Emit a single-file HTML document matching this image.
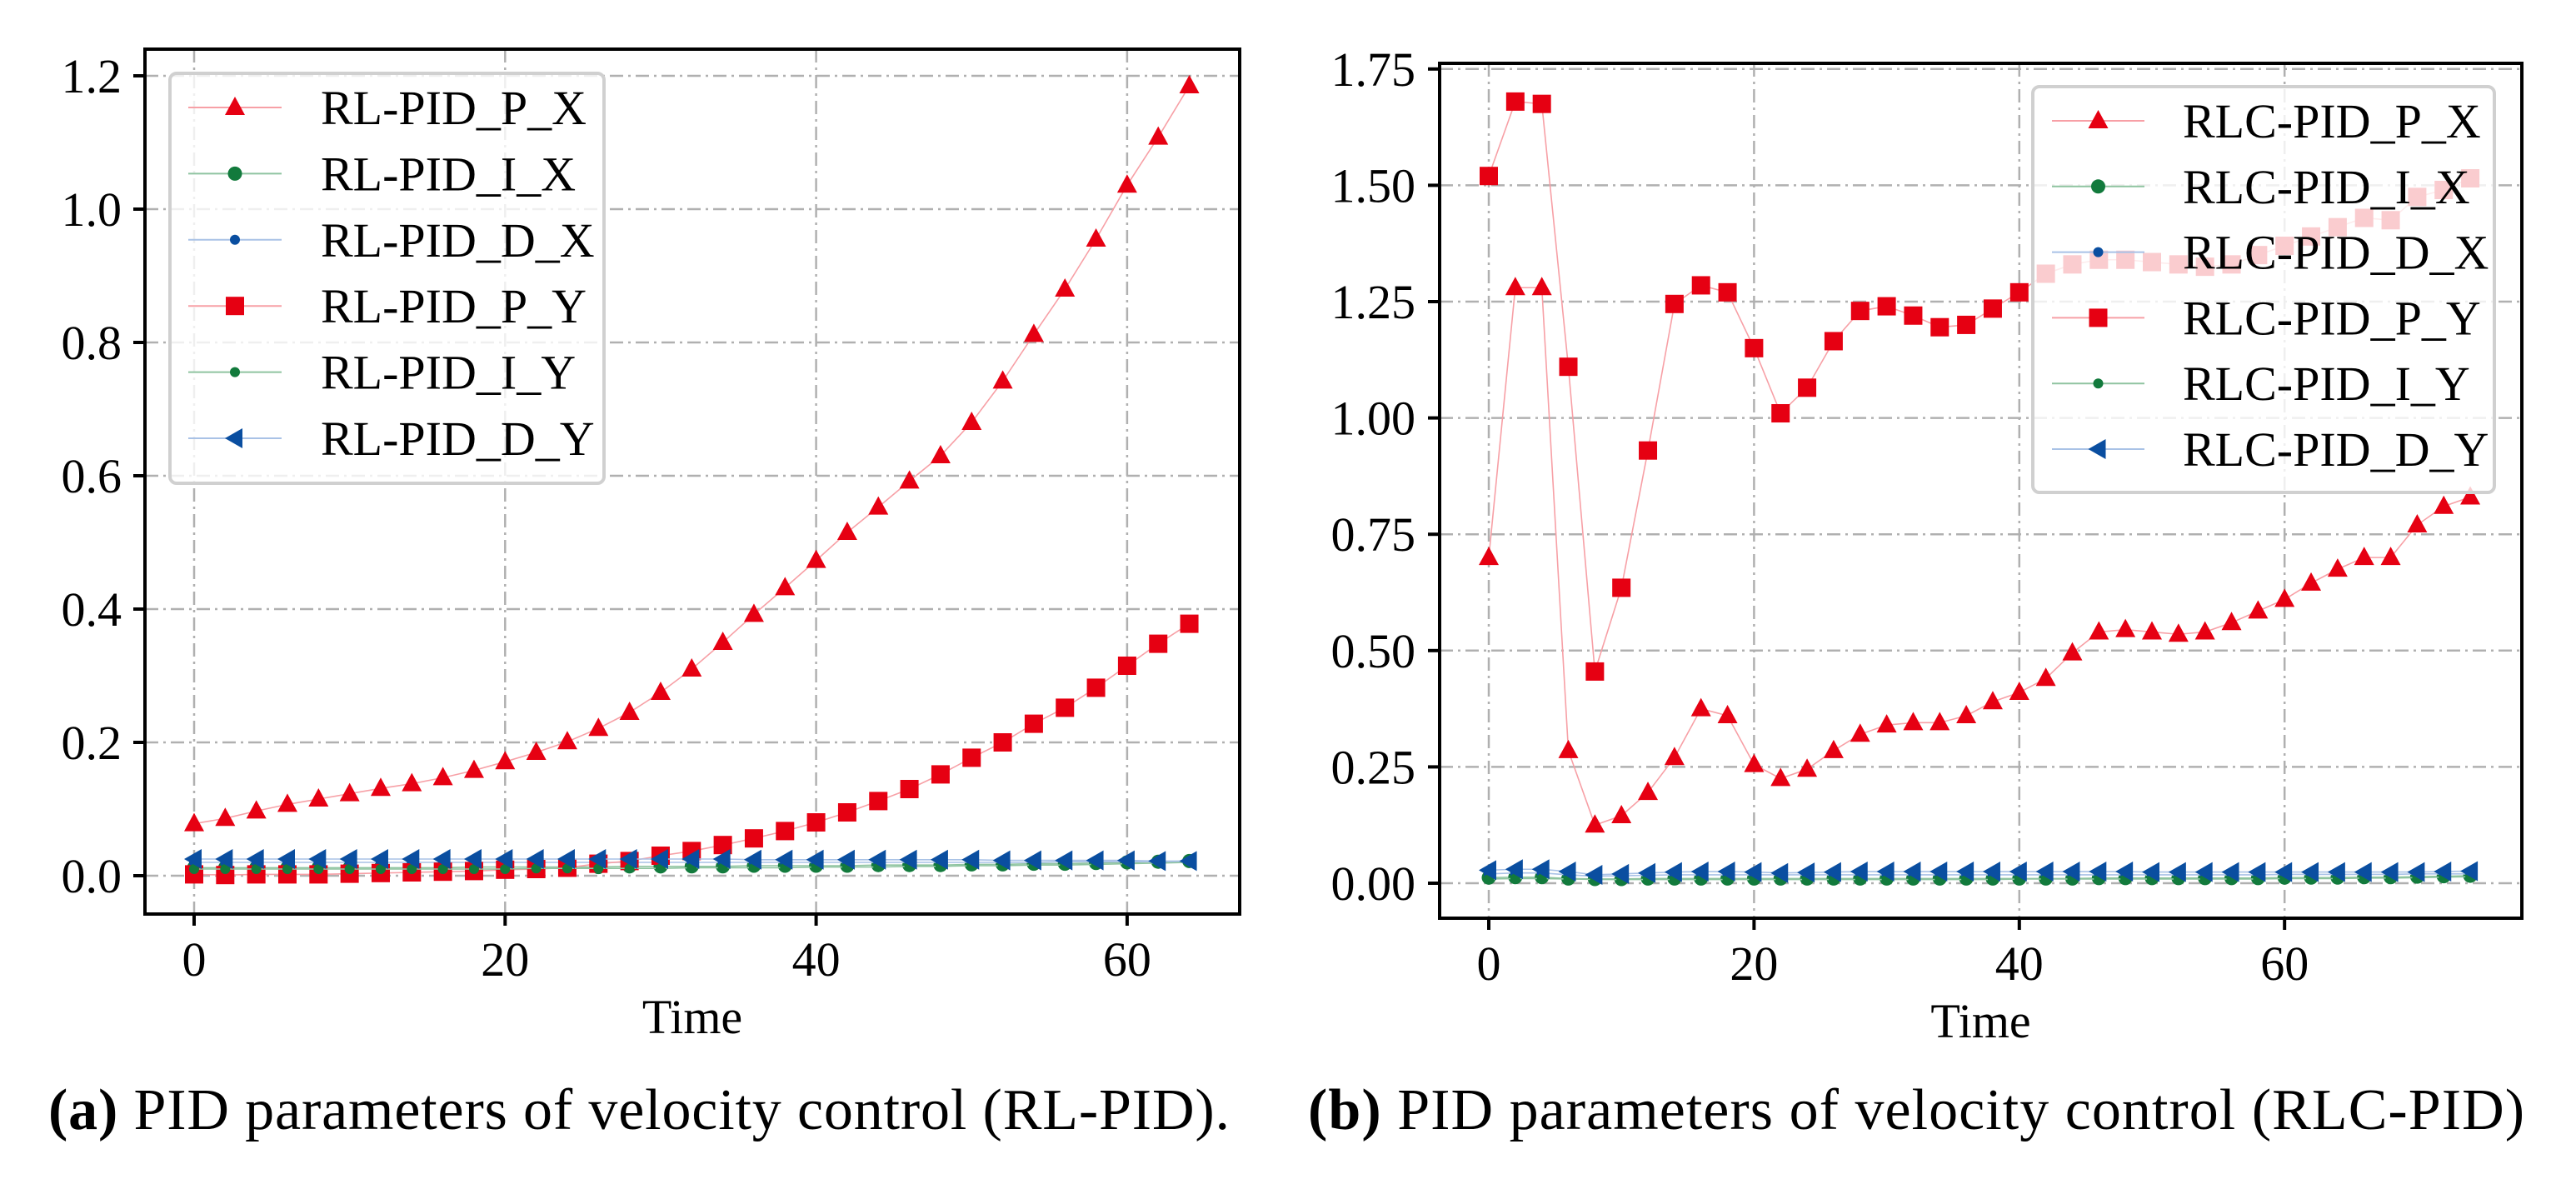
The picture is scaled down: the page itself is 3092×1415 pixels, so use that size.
<!DOCTYPE html>
<html><head><meta charset="utf-8">
<style>
html,body{margin:0;padding:0;background:#fff;}
svg{display:block;font-family:"Liberation Serif","DejaVu Serif",serif;}
</style></head>
<body>
<svg id="fig" width="3092" height="1415" viewBox="0 0 3092 1415" xmlns="http://www.w3.org/2000/svg">
<g id="chartA"></g>
<g id="chartB"></g>
<text x="58" y="1355" font-size="70" fill="#000" textLength="1418" lengthAdjust="spacing"><tspan font-weight="bold">(a)</tspan> PID parameters of velocity control (RL-PID).</text>
<text x="1570" y="1355" font-size="70" fill="#000" textLength="1460" lengthAdjust="spacing"><tspan font-weight="bold">(b)</tspan> PID parameters of velocity control (RLC-PID)</text>
</svg>
<script>
// ---- Chart A data ----
const timeA = [0,2,4,6,8,10,12,14,16,18,20,22,24,26,28,30,32,34,36,38,40,42,44,46,48,50,52,54,56,58,60,62,64];
const pxA = [0.078,0.086,0.097,0.107,0.115,0.123,0.131,0.138,0.147,0.158,0.171,0.185,0.201,0.221,0.245,0.275,0.31,0.35,0.392,0.432,0.473,0.515,0.553,0.592,0.63,0.68,0.742,0.812,0.88,0.955,1.036,1.108,1.185];
const ixA = [0.012,0.012,0.012,0.012,0.012,0.012,0.012,0.012,0.012,0.013,0.013,0.013,0.013,0.013,0.014,0.014,0.014,0.014,0.015,0.015,0.015,0.015,0.016,0.016,0.016,0.017,0.017,0.018,0.018,0.019,0.02,0.021,0.022];
const dxA = [0.02,0.02,0.02,0.02,0.02,0.02,0.02,0.02,0.02,0.02,0.02,0.02,0.02,0.02,0.02,0.02,0.02,0.02,0.02,0.02,0.02,0.02,0.02,0.02,0.02,0.02,0.02,0.02,0.021,0.021,0.021,0.021,0.021];
const pyA = [0.002,0.001,0.002,0.002,0.002,0.003,0.004,0.005,0.006,0.007,0.009,0.01,0.012,0.018,0.022,0.03,0.037,0.046,0.056,0.067,0.08,0.095,0.112,0.13,0.152,0.177,0.2,0.228,0.252,0.282,0.315,0.348,0.378];
const iyA = [0.01,0.01,0.01,0.01,0.01,0.01,0.01,0.01,0.01,0.01,0.01,0.011,0.011,0.011,0.011,0.011,0.012,0.012,0.012,0.012,0.013,0.013,0.013,0.014,0.014,0.015,0.015,0.016,0.016,0.017,0.018,0.019,0.02];
const dyA = [0.025,0.025,0.025,0.025,0.025,0.025,0.025,0.025,0.025,0.025,0.025,0.025,0.025,0.025,0.025,0.025,0.025,0.025,0.024,0.024,0.024,0.024,0.024,0.024,0.024,0.024,0.023,0.023,0.023,0.023,0.023,0.022,0.022];
const yTicksA = [0,0.2,0.4,0.6,0.8,1.0,1.2];
const yTickLabelsA = ["0.0","0.2","0.4","0.6","0.8","1.0","1.2"];
const xTicksA = [0,20,40,60];
const namesA = ["RL-PID_P_X","RL-PID_I_X","RL-PID_D_X","RL-PID_P_Y","RL-PID_I_Y","RL-PID_D_Y"];
// ---- Chart B data ----
const timeB = [0,2,4,6,8,10,12,14,16,18,20,22,24,26,28,30,32,34,36,38,40,42,44,46,48,50,52,54,56,58,60,62,64,66,68,70,72,74];
const pxB = [0.70,1.28,1.28,0.285,0.125,0.145,0.195,0.27,0.375,0.36,0.255,0.225,0.245,0.285,0.32,0.34,0.345,0.345,0.36,0.39,0.41,0.44,0.495,0.54,0.545,0.54,0.535,0.54,0.56,0.585,0.61,0.645,0.675,0.70,0.70,0.77,0.81,0.83];
const pyB = [1.52,1.68,1.675,1.11,0.455,0.635,0.93,1.245,1.285,1.27,1.15,1.01,1.065,1.165,1.23,1.24,1.22,1.195,1.2,1.235,1.27,1.31,1.33,1.34,1.34,1.335,1.33,1.325,1.33,1.35,1.37,1.39,1.41,1.43,1.425,1.475,1.49,1.515];
const ixB = [0.012,0.013,0.013,0.01,0.009,0.009,0.01,0.01,0.01,0.01,0.01,0.01,0.01,0.01,0.01,0.01,0.01,0.01,0.01,0.01,0.01,0.01,0.01,0.011,0.011,0.011,0.011,0.011,0.011,0.011,0.012,0.012,0.012,0.013,0.013,0.014,0.015,0.016];
const dxB = [0.02,0.022,0.022,0.018,0.015,0.016,0.017,0.018,0.018,0.018,0.018,0.018,0.018,0.018,0.018,0.018,0.018,0.018,0.018,0.018,0.018,0.018,0.018,0.018,0.018,0.018,0.018,0.018,0.018,0.018,0.019,0.019,0.019,0.019,0.019,0.02,0.02,0.02];
const iyB = [0.009,0.01,0.01,0.009,0.008,0.008,0.008,0.008,0.008,0.008,0.008,0.008,0.008,0.008,0.008,0.008,0.008,0.008,0.008,0.008,0.009,0.009,0.009,0.009,0.009,0.009,0.009,0.009,0.009,0.009,0.01,0.01,0.01,0.011,0.011,0.012,0.013,0.014];
const dyB = [0.028,0.03,0.03,0.025,0.018,0.02,0.022,0.024,0.025,0.025,0.024,0.022,0.023,0.024,0.025,0.025,0.025,0.025,0.025,0.025,0.025,0.025,0.025,0.025,0.025,0.024,0.024,0.024,0.024,0.024,0.024,0.024,0.024,0.024,0.024,0.024,0.025,0.026];
const yTicksB = [0,0.25,0.5,0.75,1.0,1.25,1.5,1.75];
const yTickLabelsB = ["0.00","0.25","0.50","0.75","1.00","1.25","1.50","1.75"];
const xTicksB = [0,20,40,60];
const namesB = ["RLC-PID_P_X","RLC-PID_I_X","RLC-PID_D_X","RLC-PID_P_Y","RLC-PID_I_Y","RLC-PID_D_Y"];

const NS="http://www.w3.org/2000/svg";
const RED="#e60012", GREEN="#127a3c", BLUE="#0a4ea0";
function mk(parent,tag,attrs){const e=document.createElementNS(NS,tag);for(const k in attrs)e.setAttribute(k,attrs[k]);parent.appendChild(e);return e;}

function marker(g,kind,color,x,y){
  let m;
  if(kind==="tri"){m=mk(g,"polygon",{points:`${x},${y-13} ${x-12},${y+9} ${x+12},${y+9}`,fill:color});}
  else if(kind==="sq"){m=mk(g,"rect",{x:x-11,y:y-11,width:22,height:22,fill:color});}
  else if(kind==="dot"){m=mk(g,"circle",{cx:x,cy:y,r:8.5,fill:color});}
  else if(kind==="sdot"){m=mk(g,"circle",{cx:x,cy:y,r:6,fill:color});}
  else {m=mk(g,"polygon",{points:`${x-12},${y} ${x+9},${y-12} ${x+9},${y+12}`,fill:color});}
  return m;
}

function drawChart(g,cfg){
  const {L,R,T,B,x0,xPer20,y0,yPerUnit,xs,series,names,yTicks,yLabels,xTicks,leg,labelRight}=cfg;
  const X=v=>x0+v*xPer20/20, Y=v=>y0-v*yPerUnit;
  const grid=mk(g,"g",{});
  
  
  xTicks.forEach(t=>mk(grid,"line",{x1:X(t),x2:X(t),y1:T,y2:B,stroke:"#b0b0b0","stroke-width":2.5,"stroke-dasharray":"16 6 3 6"}));
  yTicks.forEach(t=>mk(grid,"line",{x1:L,x2:R,y1:Y(t),y2:Y(t),stroke:"#b0b0b0","stroke-width":2.5,"stroke-dasharray":"16 6 3 6"}));
  series.forEach(s=>{
    const sg=mk(g,"g",{});
    
    
    mk(sg,"polyline",{points:xs.map((t,i)=>X(t)+","+Y(s.vals[i])).join(" "),fill:"none",stroke:s.line,"stroke-width":1.6});
    xs.forEach((t,i)=>{const m=marker(sg,s.kind,s.color,X(t),Y(s.vals[i]));
      
      });
  });
  const fr=mk(g,"rect",{x:L,y:T,width:R-L,height:B-T,fill:"none",stroke:"#000","stroke-width":4});
  
  
  yTicks.forEach((t,i)=>{
    mk(g,"line",{x1:L-14,x2:L,y1:Y(t),y2:Y(t),stroke:"#000","stroke-width":4});
    const tx=mk(g,"text",{x:labelRight,y:Y(t)+20,"text-anchor":"end","font-size":58,fill:"#000"});
    tx.textContent=yLabels[i];
    
    
  });
  xTicks.forEach(t=>{
    mk(g,"line",{x1:X(t),x2:X(t),y1:B,y2:B+14,stroke:"#000","stroke-width":4});
    const tx=mk(g,"text",{x:X(t),y:B+74,"text-anchor":"middle","font-size":58,fill:"#000"});
    tx.textContent=String(t);
    
    
  });
  const xt=mk(g,"text",{x:(L+R)/2,y:B+143,"text-anchor":"middle","font-size":58,fill:"#000"});
  xt.textContent="Time";
  
  
  const lg=mk(g,"g",{});
  
  
  mk(lg,"rect",{x:leg.x,y:leg.y,width:leg.w,height:leg.h,rx:8,fill:"rgba(255,255,255,0.8)",stroke:"#d0d0d0","stroke-width":4});
  series.forEach((s,i)=>{
    const yy=leg.y0+i*leg.dy;
    const e=mk(lg,"g",{});
    
    
    mk(e,"line",{x1:leg.lx1,x2:leg.lx2,y1:yy,y2:yy,stroke:s.line,"stroke-width":2});
    marker(e,s.kind,s.color,(leg.lx1+leg.lx2)/2,yy);
    const tx=mk(e,"text",{x:leg.tx,y:yy+20,"font-size":58,fill:"#000"});
    tx.textContent=names[i];
  });
}

function mkSeries(vals,names){
  const kinds=["tri","dot","sdot","sq","sdot","left"];
  const colors=[RED,GREEN,BLUE,RED,GREEN,BLUE];
  const lines=["#f7a0a6","#8fc4a0","#a9c2e6","#f7a0a6","#8fc4a0","#a9c2e6"];
  return vals.map((v,i)=>({vals:v,name:names[i],kind:kinds[i],color:colors[i],line:lines[i]}));
}

const sA=mkSeries([pxA,ixA,dxA,pyA,iyA,dyA],namesA);
drawChart(document.getElementById("chartA"),{
  L:174,R:1488,T:59,B:1097,x0:233,xPer20:373.3,y0:1051,yPerUnit:800,
  xs:timeA,series:sA,names:namesA,yTicks:yTicksA,yLabels:yTickLabelsA,xTicks:xTicksA,labelRight:146,
  leg:{x:204,y:88,w:521,h:492,y0:129,dy:79.4,lx1:226,lx2:338,tx:385}
});
const sB=mkSeries([pxB,ixB,dxB,pyB,iyB,dyB],namesB);
drawChart(document.getElementById("chartB"),{
  L:1728,R:3027,T:76,B:1102,x0:1787,xPer20:318.4,y0:1060,yPerUnit:558.4,
  xs:timeB,series:sB,names:namesB,yTicks:yTicksB,yLabels:yTickLabelsB,xTicks:xTicksB,labelRight:1699,
  leg:{x:2440,y:104,w:554,h:487,y0:145,dy:78.8,lx1:2463,lx2:2574,tx:2620}
});
</script>
</body></html>
